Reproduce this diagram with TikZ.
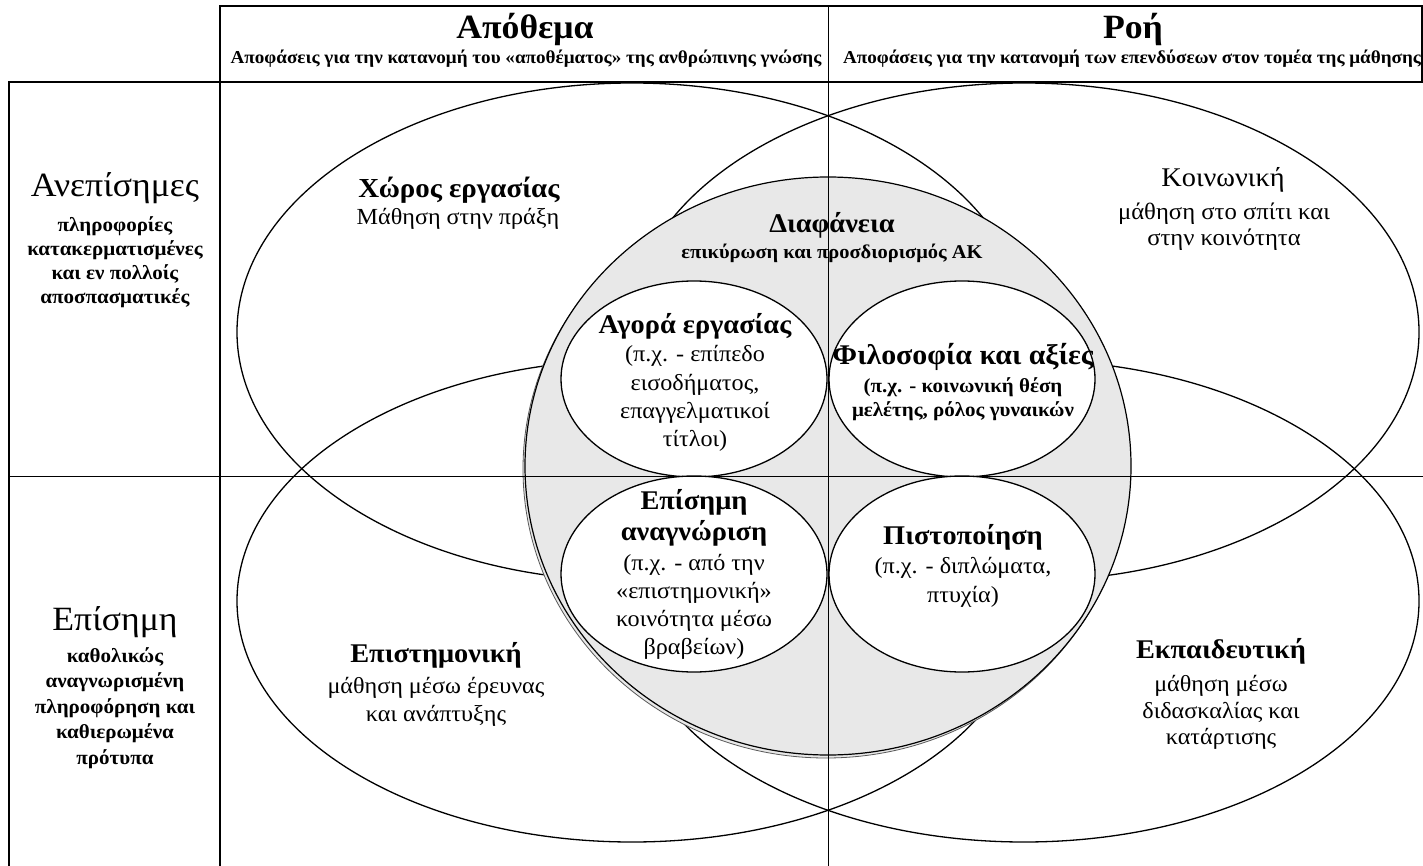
\documentclass[tikz,border=0pt]{standalone}
\usepackage{fontspec}
\setmainfont{Liberation Serif}[FakeStretch=1.05]
\definecolor{greyfill}{RGB}{232,232,232}
\newcommand\fsz[2]{\fontsize{#1}{#2}\selectfont}
\begin{document}
\begin{tikzpicture}[x=1pt,y=-1pt,
  big/.style={draw=black,line width=1.3pt},
  gridline/.style={draw=black,line width=0.9pt},
  frameline/.style={draw=black,line width=1.5pt},
  lbl/.style={align=center,inner sep=0pt,text=black},
  hdrtitle/.style={lbl,font=\fsz{34}{38}\bfseries},
  hdrsub/.style={lbl,font=\fsz{18.2}{22}\bfseries},
  sidetitle/.style={lbl,font=\fsz{34}{38}},
  sidesub/.style={lbl,font=\fsz{20}{24}\bfseries},
  btitle/.style={lbl,font=\fsz{27}{31}\bfseries},
  bsub/.style={lbl,font=\fsz{23}{28}},
  ssub/.style={lbl,font=\fsz{19.5}{24}\bfseries}
]
\useasboundingbox (0,0) rectangle (1423,866);

% large ellipses
\draw[big] (632,332) ellipse [x radius=395pt, y radius=249pt];
\draw[big] (1024,332) ellipse [x radius=395pt, y radius=249pt];
\draw[big] (632,601) ellipse [x radius=395pt, y radius=241pt];
\draw[big] (1024,601) ellipse [x radius=395pt, y radius=241pt];

% grey central ellipse with shadow
\filldraw[fill=greyfill,draw=black!65,line width=0.8pt] (826,469) ellipse [x radius=303pt, y radius=289pt];
\filldraw[fill=greyfill,draw=black,line width=1.2pt] (828,466) ellipse [x radius=303pt, y radius=289pt];

% inner white ellipses
\filldraw[fill=white,big] (694,379) ellipse [x radius=133pt, y radius=98pt];
\filldraw[fill=white,big] (962,379) ellipse [x radius=133pt, y radius=98pt];
\filldraw[fill=white,big] (694,574) ellipse [x radius=133pt, y radius=98pt];
\filldraw[fill=white,big] (962,574) ellipse [x radius=133pt, y radius=98pt];

% grid
\draw[gridline] (828,6) -- (828,866);
\draw[gridline] (9,476) -- (1423,476);
\draw[frameline] (220,866) -- (220,6) -- (1422,6) -- (1422,82);
\draw[frameline] (9,866) -- (9,82) -- (1423,82);

% header
\node[hdrtitle] (hA) at (525,29) {Απόθεμα};
\node[hdrsub] (hAs) at (526,59) {Αποφάσεις για την κατανομή του «αποθέματος» της ανθρώπινης γνώσης};
\node[hdrtitle] (hR) at (1133,29) {Ροή};
\node[hdrsub] (hRs) at (1132,59) {Αποφάσεις για την κατανομή των επενδύσεων στον τομέα της μάθησης};

% side column
\node[sidetitle] (sI) at (115,188) {Ανεπίσημες};
\node[sidesub,font=\fsz{20}{24}\bfseries] (sIs) at (115,262) {πληροφορίες\\κατακερματισμένες\\και εν πολλοίς\\αποσπασματικές};
\node[sidetitle] (sF) at (115,622) {Επίσημη};
\node[sidesub,font=\fsz{20}{25.5}\bfseries] (sFs) at (115,708) {καθολικώς\\αναγνωρισμένη\\πληροφόρηση και\\καθιερωμένα\\πρότυπα};

% big ellipse labels
\node[btitle,font=\fsz{27.5}{31}\bfseries] (wT) at (459,190) {Χώρος εργασίας};
\node[bsub] (wS) at (458,219) {Μάθηση στην πράξη};
\node[lbl,font=\fsz{27}{31}] (kT) at (1223,180) {Κοινωνική};
\node[bsub,font=\fsz{23.5}{26}] (kS) at (1224,227) {μάθηση στο σπίτι και\\στην κοινότητα};
\node[btitle] (eT) at (436,655) {Επιστημονική};
\node[bsub] (eS) at (436,702) {μάθηση μέσω έρευνας\\και ανάπτυξης};
\node[btitle] (dT) at (1221,651) {Εκπαιδευτική};
\node[bsub,font=\fsz{23}{26.5}] (dS) at (1221,712.5) {μάθηση μέσω\\διδασκαλίας και\\κατάρτισης};

% central
\node[btitle] (tT) at (832,225) {Διαφάνεια};
\node[ssub] (tS) at (832,253) {επικύρωση και προσδιορισμός ΑΚ};
\node[btitle] (aT) at (695,326) {Αγορά εργασίας};
\node[bsub,font=\fsz{23}{28.3}] (aS) at (695,398.5) {(π.χ. - επίπεδο\\εισοδήματος,\\επαγγελματικοί\\τίτλοι)};
\node[btitle,font=\fsz{28.5}{31}\bfseries] (fT) at (963,357) {Φιλοσοφία και αξίες};
\node[ssub,font=\fsz{20}{24}\bfseries] (fS) at (963,399.5) {(π.χ. - κοινωνική θέση\\μελέτης, ρόλος γυναικών};
\node[btitle,font=\fsz{27}{31}\bfseries] (rT) at (694,517.5) {Επίσημη\\αναγνώριση};
\node[bsub,font=\fsz{23}{28}] (rS) at (694,607) {(π.χ. - από την\\«επιστημονική»\\κοινότητα μέσω\\βραβείων)};
\node[btitle] (pT) at (963,537) {Πιστοποίηση};
\node[bsub,font=\fsz{23}{29}] (pS) at (963,582.5) {(π.χ. - διπλώματα,\\πτυχία)};
\end{tikzpicture}
\end{document}
